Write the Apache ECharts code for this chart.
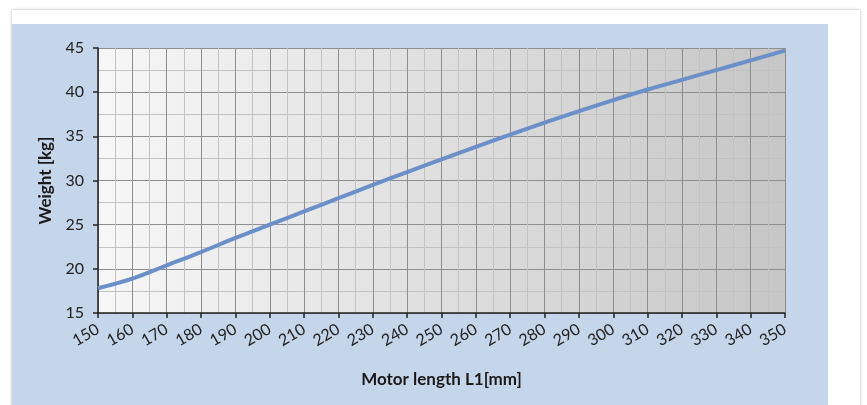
<!DOCTYPE html>
<html>
<head>
<meta charset="utf-8">
<script src="https://cdn.jsdelivr.net/npm/echarts@6/dist/echarts.min.js"></script>
<style>
html,body{margin:0;padding:0;background:#fff;}
#frame{position:absolute;left:12px;top:10px;width:848px;height:400px;background:#fff;box-shadow:0 0 3px rgba(0,0,0,0.3);}
#chart{position:absolute;left:0;top:0;width:867px;height:405px;}
</style>
</head>
<body>
<div id="frame"></div>
<div id="chart"></div>
<script>
var motorLength = [150,160,170,180,190,200,210,220,230,240,250,260,270,280,290,300,310,320,330,340,350];
var weight = [17.8,18.9,20.4,21.9,23.5,25.0,26.5,28.0,29.5,30.95,32.4,33.8,35.2,36.55,37.85,39.1,40.3,41.4,42.5,43.6,44.7];
var xTicks = {min:150, max:350, interval:10};
var yTicks = {min:15, max:45, interval:5};

var chart = echarts.init(document.getElementById('chart'));
var font = 'Lato, "Open Sans", sans-serif';
chart.setOption({
  backgroundColor: 'transparent',
  animation: false,
  graphic: [{
    type: 'rect', z: -10,
    shape: {x: 12, y: 24, width: 816, height: 381},
    style: {fill: '#c6d6ea'}
  }],
  grid: {
    left: 98, top: 48, right: 82, bottom: 92,
    show: true,
    borderWidth: 0,
    backgroundColor: new echarts.graphic.LinearGradient(0,0,1,0,[
      {offset:0,color:'#f7f7f7'},{offset:1,color:'#c6c6c6'}
    ])
  },
  xAxis: {
    type: 'value',
    min: xTicks.min, max: xTicks.max, interval: xTicks.interval,
    name: 'Motor length L1[mm]',
    nameLocation: 'middle', nameGap: 58,
    nameTextStyle: {fontFamily: font, fontWeight: 'bold', fontSize: 17, color: '#1a1a1a'},
    axisLine: {show: true, onZero: false, lineStyle: {color: '#222', width: 1.5}},
    axisTick: {show: true, length: 5, lineStyle: {color: '#222', width: 1.5}},
    axisLabel: {rotate: 30, margin: 15, fontFamily: font, fontSize: 16, color: '#222'},
    splitLine: {show: true, lineStyle: {color: '#8e8e8e', width: 1}},
    minorTick: {show: false, splitNumber: 2},
    minorSplitLine: {show: true, lineStyle: {color: '#c2c2c2', width: 1}}
  },
  yAxis: {
    type: 'value',
    min: yTicks.min, max: yTicks.max, interval: yTicks.interval,
    name: 'Weight [kg]',
    nameLocation: 'middle', nameGap: 44,
    nameTextStyle: {fontFamily: font, fontWeight: 'bold', fontSize: 17, color: '#1a1a1a'},
    axisLine: {show: true, onZero: false, lineStyle: {color: '#222', width: 1.5}},
    axisTick: {show: true, length: 5, lineStyle: {color: '#222', width: 1.5}},
    axisLabel: {margin: 14, fontFamily: font, fontSize: 16, color: '#222'},
    splitLine: {show: true, lineStyle: {color: '#8e8e8e', width: 1}},
    minorTick: {show: false, splitNumber: 2},
    minorSplitLine: {show: true, lineStyle: {color: '#c2c2c2', width: 1}}
  },
  series: [{
    type: 'line',
    data: motorLength.map(function(x,i){return [x, weight[i]];}),
    smooth: 0.3,
    showSymbol: false,
    lineStyle: {color: '#6b90c9', width: 4}
  }]
});
</script>
</body>
</html>
